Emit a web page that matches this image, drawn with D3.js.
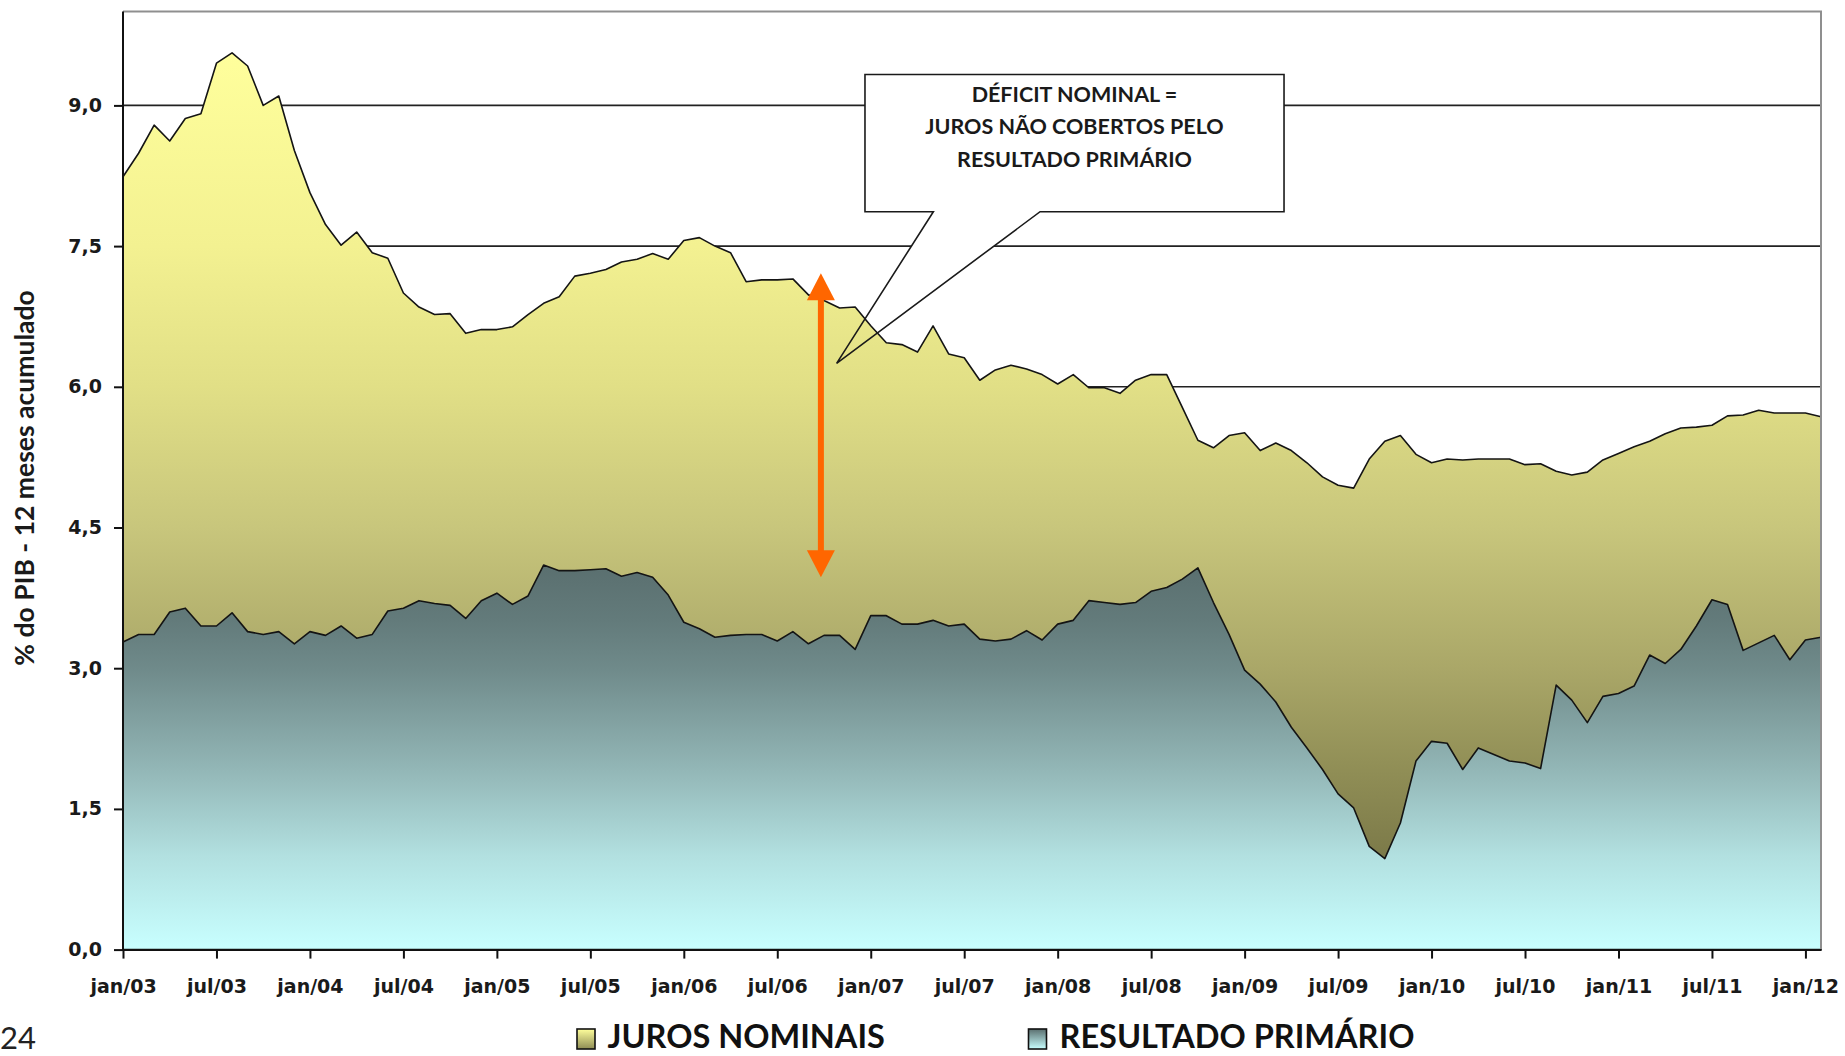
<!DOCTYPE html>
<html><head><meta charset="utf-8">
<script src="https://cdn.jsdelivr.net/npm/d3@7"></script>
<style>body{margin:0;background:#fff;overflow:hidden} svg{display:block}</style>
</head><body>
<svg id="chart" width="1845" height="1056"></svg>
<script>
// ---------- data ----------
const monthNames = ["jan","fev","mar","abr","mai","jun","jul","ago","set","out","nov","dez"];
const years = ["03","04","05","06","07","08","09","10","11","12"];
const months = [];
years.forEach(yy => monthNames.forEach(mn => months.push(mn + "/" + yy)));
months.length = 110; // jan/03 .. fev/12

const tickLabels = ["jan/03","jul/03","jan/04","jul/04","jan/05","jul/05","jan/06","jul/06","jan/07","jul/07",
  "jan/08","jul/08","jan/09","jul/09","jan/10","jul/10","jan/11","jul/11","jan/12"];

const yTicks = [0, 1.5, 3.0, 4.5, 6.0, 7.5, 9.0];
const yTickLabels = ["0,0","1,5","3,0","4,5","6,0","7,5","9,0"];

// Juros nominais (% do PIB, 12 meses)
const juros = [
  8.24, 8.49, 8.79, 8.62, 8.86, 8.91, 9.45, 9.56, 9.42, 9.00,
  9.10, 8.52, 8.07, 7.73, 7.51, 7.65, 7.43, 7.37, 7.00, 6.85,
  6.77, 6.78, 6.57, 6.61, 6.61, 6.64, 6.77, 6.89, 6.96, 7.18,
  7.21, 7.25, 7.33, 7.36, 7.42, 7.36, 7.56, 7.59, 7.50, 7.43,
  7.12, 7.14, 7.14, 7.15, 6.98, 6.92, 6.84, 6.85, 6.65, 6.47,
  6.45, 6.37, 6.65, 6.35, 6.31, 6.07, 6.18, 6.23, 6.19, 6.13,
  6.03, 6.13, 5.99, 5.99, 5.93, 6.07, 6.13, 6.13, 5.78, 5.43,
  5.35, 5.48, 5.51, 5.32, 5.40, 5.32, 5.19, 5.04, 4.95, 4.92,
  5.23, 5.42, 5.48, 5.28, 5.19, 5.23, 5.22, 5.23, 5.23, 5.23,
  5.17, 5.18, 5.10, 5.06, 5.09, 5.22, 5.29, 5.36, 5.42, 5.50,
  5.56, 5.57, 5.59, 5.69, 5.70, 5.75, 5.72, 5.72, 5.72, 5.68
];

// Resultado primário (% do PIB, 12 meses)
const primario = [
  3.28, 3.36, 3.36, 3.60, 3.64, 3.45, 3.45, 3.59, 3.39, 3.36,
  3.39, 3.26, 3.39, 3.35, 3.45, 3.32, 3.36, 3.61, 3.64, 3.72,
  3.69, 3.67, 3.53, 3.72, 3.80, 3.68, 3.77, 4.10, 4.04, 4.04,
  4.05, 4.06, 3.98, 4.02, 3.97, 3.78, 3.49, 3.42, 3.33, 3.35,
  3.36, 3.36, 3.29, 3.39, 3.26, 3.35, 3.35, 3.20, 3.56, 3.56,
  3.47, 3.47, 3.51, 3.45, 3.47, 3.31, 3.29, 3.31, 3.40, 3.30,
  3.47, 3.51, 3.72, 3.70, 3.68, 3.70, 3.82, 3.86, 3.95, 4.07,
  3.70, 3.36, 2.98, 2.83, 2.64, 2.37, 2.15, 1.92, 1.66, 1.51,
  1.10, 0.97, 1.35, 2.01, 2.22, 2.20, 1.92, 2.15, 2.08, 2.01,
  1.99, 1.93, 2.82, 2.66, 2.42, 2.70, 2.73, 2.81, 3.14, 3.05,
  3.20, 3.45, 3.73, 3.68, 3.19, 3.27, 3.35, 3.09, 3.30, 3.33
];

const seriesNames = ["JUROS NOMINAIS", "RESULTADO PRIMÁRIO"];
const calloutLines = ["DÉFICIT NOMINAL =", "JUROS NÃO COBERTOS PELO", "RESULTADO PRIMÁRIO"];
// annotation anchors in data units (month index, value)
const arrowSpan = {m: 44.8, top: 7.21, bottom: 3.97};
const callout = {m0: 47.63, m1: 74.53, v0: 9.33, v1: 7.867, tailL: 52.02, tailR: 58.87, tipM: 45.81, tipV: 6.25};

// ---------- layout ----------
const L = 123, R = 1821, T = 11.6, B = 949.6;
const svg = d3.select("#chart");
const x = d3.scalePoint(months, [L, R]).padding(0);
const xm = d3.scaleLinear([0, months.length - 1], [L, R]);
const y = d3.scaleLinear([0, 10], [B, T]);

const defs = svg.append("defs");
function grad(id, stops, vTop, vBot) {
  const g = defs.append("linearGradient").attr("id", id)
    .attr("gradientUnits", "userSpaceOnUse")
    .attr("x1", 0).attr("x2", 0).attr("y1", y(vTop)).attr("y2", y(vBot));
  stops.forEach(([v, c]) => g.append("stop").attr("offset", (vTop - v) / (vTop - vBot)).attr("stop-color", c));
}
grad("gJuros", [[9.6,"#ffff9c"],[7.5,"#f3f191"],[6.0,"#e1df86"],[4.5,"#c8c67c"],[3.0,"#aaa768"],[2.0,"#929057"],[1.0,"#7c7a49"],[0,"#727142"]], 9.6, 0);
grad("gPrim", [[4.1,"#5a6f6f"],[3.5,"#637b7b"],[3.0,"#6f8a8a"],[2.0,"#90b3b3"],[1.0,"#b2e0e0"],[0,"#c8ffff"]], 4.1, 0);
function sw(id, c1, c2) {
  const g = defs.append("linearGradient").attr("id", id).attr("x1",0).attr("x2",0).attr("y1",0).attr("y2",1);
  g.append("stop").attr("offset",0).attr("stop-color",c1);
  g.append("stop").attr("offset",1).attr("stop-color",c2);
}
sw("lJuros", "#ffff9c", "#8e8c55");
sw("lPrim", "#5a6f6f", "#c8ffff");

// gridlines
svg.append("g").selectAll("line").data(yTicks.filter(d => d > 0)).join("line")
  .attr("x1", L).attr("x2", R).attr("y1", d => y(d)).attr("y2", d => y(d))
  .attr("stroke", "#222").attr("stroke-width", 1.6);

// callout shape (fill under the areas, border over them)
const cx0 = xm(callout.m0), cx1 = xm(callout.m1), cy0 = y(callout.v0), cy1 = y(callout.v1);
const calloutPath = `M${cx0},${cy0}H${cx1}V${cy1}H${xm(callout.tailR)}L${xm(callout.tipM)},${y(callout.tipV)}L${xm(callout.tailL)},${cy1}H${cx0}Z`;
svg.append("path").attr("d", calloutPath).attr("fill", "#fff").attr("stroke", "none");

// areas
const area = d3.area().x((d, i) => x(months[i])).y0(y(0)).y1(d => y(d));
svg.append("path").datum(juros).attr("d", area).attr("fill", "url(#gJuros)")
  .attr("stroke", "#141414").attr("stroke-width", 1.6).attr("stroke-linejoin", "round");
svg.append("path").datum(primario).attr("d", area).attr("fill", "url(#gPrim)")
  .attr("stroke", "#141414").attr("stroke-width", 1.6).attr("stroke-linejoin", "round");

// callout border + text
svg.append("path").attr("d", calloutPath).attr("fill", "none").attr("stroke", "#1a1a1a").attr("stroke-width", 1.6);
const ctx = (cx0 + cx1) / 2;
svg.append("g").selectAll("text").data(calloutLines).join("text")
  .attr("x", ctx).attr("y", (d, i) => 101.8 + i * 32.6)
  .attr("text-anchor", "middle")
  .style("font-family", "Lato, 'Open Sans', sans-serif").style("font-weight", "bold").style("font-size", "21.5px")
  .attr("fill", "#1a1a1a").text(d => d);

// double arrow
const ax = xm(arrowSpan.m), ayT = y(arrowSpan.top), ayB = y(arrowSpan.bottom), hl = 27, hw = 14;
svg.append("line").attr("x1", ax).attr("x2", ax).attr("y1", ayT + hl - 2).attr("y2", ayB - hl + 2)
  .attr("stroke", "#ff6600").attr("stroke-width", 6);
svg.append("path").attr("d", `M${ax},${ayT}L${ax + hw},${ayT + hl}L${ax - hw},${ayT + hl}Z`).attr("fill", "#ff6600");
svg.append("path").attr("d", `M${ax},${ayB}L${ax + hw},${ayB - hl}L${ax - hw},${ayB - hl}Z`).attr("fill", "#ff6600");

// plot border (top/right)
svg.append("path").attr("d", `M${L},${T}H${R}V${B}`).attr("fill", "none").attr("stroke", "#8f8f8f").attr("stroke-width", 2);

// axes
const tickFont = "'DejaVu Sans', Verdana, sans-serif";
const gy = svg.append("g").attr("transform", `translate(${L},0)`)
  .call(d3.axisLeft(y).tickValues(yTicks).tickFormat((d, i) => yTickLabels[i]).tickSize(9).tickSizeOuter(0).tickPadding(12));
gy.select(".domain").attr("d", `M0,${T}V${B}`);
const gx = svg.append("g").attr("transform", `translate(0,${B})`)
  .call(d3.axisBottom(x).tickValues(tickLabels).tickSize(9).tickSizeOuter(0).tickPadding(21));
[gy, gx].forEach(g => {
  g.select(".domain").attr("stroke", "#111").attr("stroke-width", 2);
  g.selectAll(".tick line").attr("stroke", "#111").attr("stroke-width", 2);
  g.selectAll(".tick text").attr("fill", "#1a1a1a")
    .style("font-family", tickFont).style("font-weight", "bold").style("font-size", "19px");
});

// y title
svg.append("text").attr("transform", "translate(33.5,478) rotate(-90)").attr("text-anchor", "middle")
  .style("font-family", "Lato, sans-serif").style("font-weight", "bold").style("font-size", "26.5px")
  .attr("fill", "#1a1a1a").text("% do PIB - 12 meses acumulado");

// legend
const legend = [
  {name: seriesNames[0], fill: "url(#lJuros)", bx: 577, tx: 607.5},
  {name: seriesNames[1], fill: "url(#lPrim)", bx: 1028.5, tx: 1059.5}
];
const lg = svg.append("g");
lg.selectAll("rect").data(legend).join("rect")
  .attr("x", d => d.bx).attr("y", 1029).attr("width", 18).attr("height", 20)
  .attr("fill", d => d.fill).attr("stroke", "#111").attr("stroke-width", 1.6);
lg.selectAll("text").data(legend).join("text")
  .attr("x", d => d.tx).attr("y", 1048)
  .style("font-family", "Lato, sans-serif").style("font-weight", "bold").style("font-size", "32.5px")
  .attr("fill", "#111").text(d => d.name);

// page number fragment at bottom-left
svg.append("text").attr("x", 0).attr("y", 1049)
  .style("font-family", "Lato, sans-serif").style("font-size", "31px").attr("fill", "#222").text("24");
</script>
</body></html>
